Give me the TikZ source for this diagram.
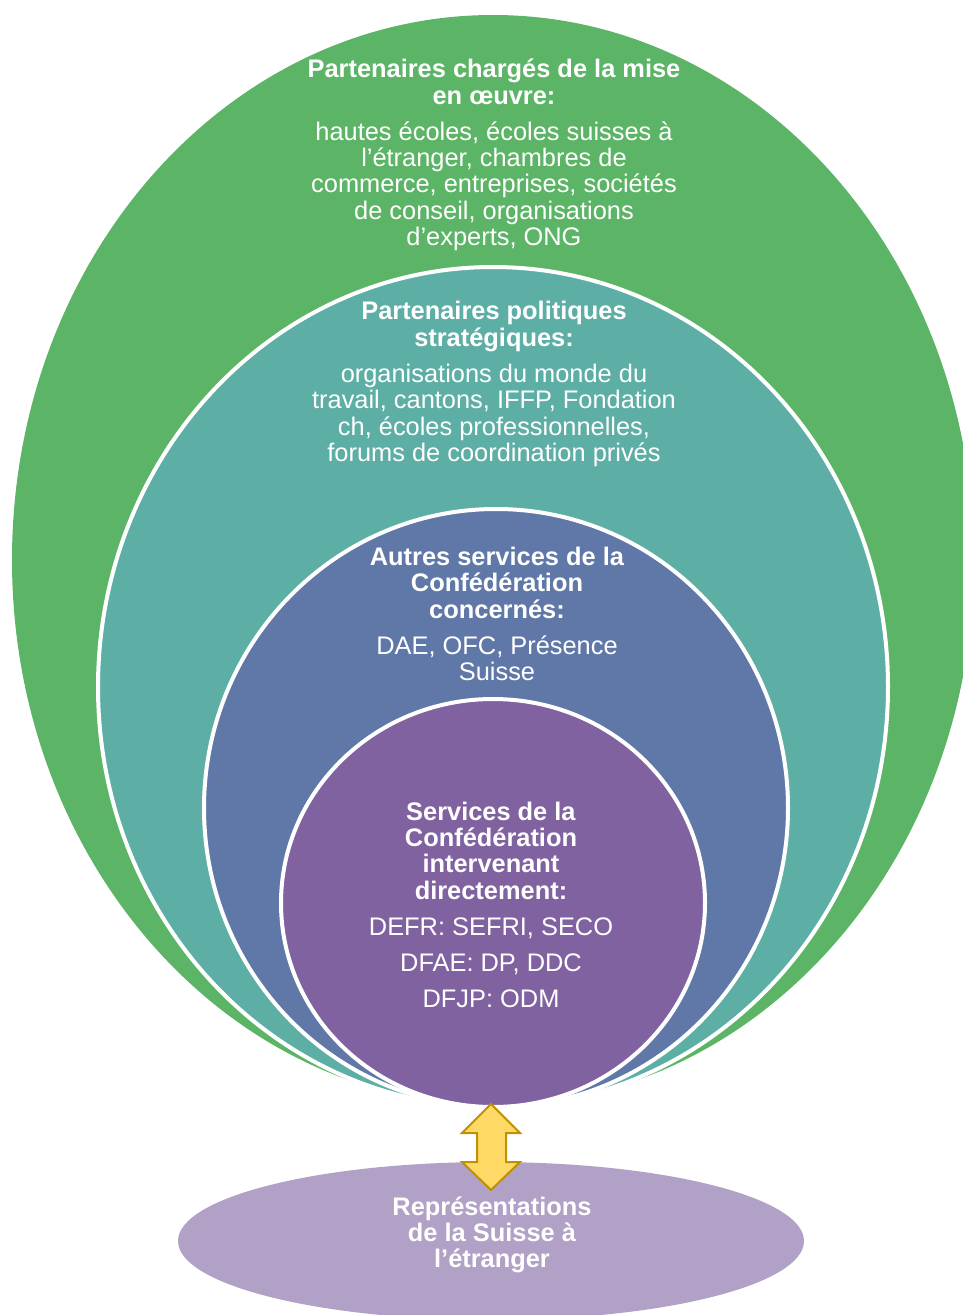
\documentclass[tikz,border=0pt]{standalone}
\usepackage{fontspec}
\setmainfont{Liberation Sans}
\definecolor{cgreen}{RGB}{92,180,102}
\definecolor{cteal}{RGB}{93,175,166}
\definecolor{cblue}{RGB}{96,120,168}
\definecolor{cpurple}{RGB}{128,98,160}
\definecolor{clav}{RGB}{177,161,198}
\definecolor{cyel}{RGB}{255,217,102}
\definecolor{cgold}{RGB}{191,144,0}
\begin{document}
\begin{tikzpicture}[x=1pt,y=-1pt,
  ring/.style={draw=white,line width=4pt},
  lbl/.style={text=white,align=center,font=\fontsize{25.4}{26.3}\selectfont,inner sep=0pt}]
\useasboundingbox (0,0) rectangle (963,1315);
\clip (0,0) rectangle (963,1315);
% rings
\fill[cgreen] (493,560) ellipse [x radius=481pt, y radius=545pt];
\filldraw[ring,fill=cteal] (493,687) ellipse [x radius=395pt, y radius=420pt];
\filldraw[ring,fill=cblue] (496,808) ellipse [x radius=292pt, y radius=299pt];
\filldraw[ring,fill=cpurple] (493,903) ellipse [x radius=212pt, y radius=204pt];
% bottom ellipse
\fill[clav] (491,1241) ellipse [x radius=313pt, y radius=79pt];
% double arrow
\filldraw[fill=cyel,draw=cgold,line width=2pt,line join=miter]
  (491,1104) -- (520,1133) -- (506,1133) -- (506,1162) -- (520,1162) -- (491,1190)
  -- (462,1162) -- (477,1162) -- (477,1133) -- (462,1133) -- cycle;
% texts
\node[lbl] (t1) at (494,155) {\textbf{Partenaires chargés de la mise}\\\textbf{en œuvre:}\\[10pt]
  hautes écoles, écoles suisses à\\l’étranger, chambres de\\commerce, entreprises, sociétés\\de conseil, organisations\\d’experts, ONG};
\node[lbl] (t2) at (494,384) {\textbf{Partenaires politiques}\\\textbf{stratégiques:}\\[10pt]
  organisations du monde du\\travail, cantons, IFFP, Fondation\\ch, écoles professionnelles,\\forums de coordination privés};
\node[lbl] (t3) at (497,614) {\textbf{Autres services de la}\\\textbf{Confédération}\\\textbf{concernés:}\\[10pt]
  DAE, OFC, Présence\\Suisse};
\node[lbl] (t4) at (491,905) {\textbf{Services de la}\\\textbf{Confédération}\\\textbf{intervenant}\\\textbf{directement:}\\[10pt]
  DEFR: SEFRI, SECO\\[10pt]DFAE: DP, DDC\\[10pt]DFJP: ODM};
\node[lbl] (t5) at (492,1235) {\textbf{Représentations}\\\textbf{de la Suisse à}\\\textbf{l’étranger}};
\end{tikzpicture}
\end{document}
